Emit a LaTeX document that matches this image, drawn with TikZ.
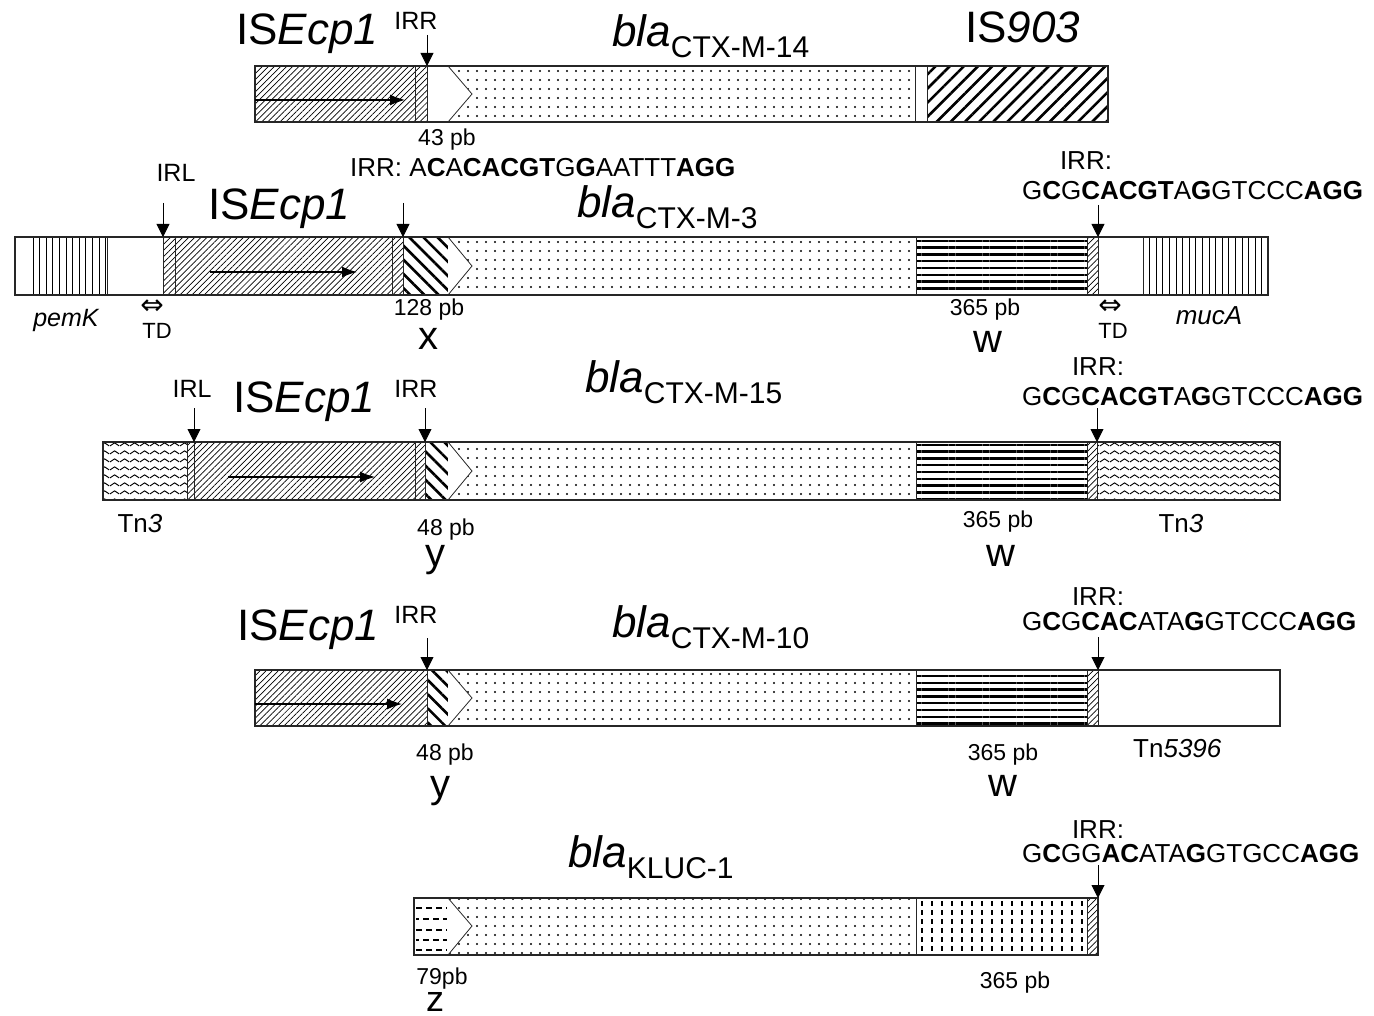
\documentclass[tikz,border=0pt]{standalone}
\usepackage{fontspec}
\setmainfont{Liberation Sans}
\newfontfamily\arrowfont{DejaVu Sans}
\usepackage{tikz}
\usetikzlibrary{
  arrows.meta,
  patterns.meta
}
\newcommand{\genefont}{\fontsize{44}{48}\selectfont}
\newcommand{\gsubfont}{\fontsize{30}{34}\selectfont}
\newcommand{\irfont}{\fontsize{25}{28}\selectfont}
\newcommand{\seqfont}{\fontsize{26}{30}\selectfont}
\newcommand{\pbfont}{\fontsize{23}{26}\selectfont}
\newcommand{\letfont}{\fontsize{40}{44}\selectfont}
\newcommand{\tdfont}{\fontsize{22}{24}\selectfont}
\newcommand{\blagene}[1]{{\genefont\itshape bla}\raisebox{-11pt}{\gsubfont #1}}
\pgfdeclarepattern{
  name=tnwaves,
  type=uncolored,
  bottom left={\pgfpointorigin},
  top right={\pgfpoint{10pt}{8pt}},
  tile size={\pgfpoint{10pt}{8pt}},
  code={
    \pgfsetlinewidth{1pt}
    \pgfpathmoveto{\pgfpoint{0pt}{2.3pt}}
    \pgfpathcurveto{\pgfpoint{2.5pt}{2.3pt}}{\pgfpoint{2.5pt}{5.7pt}}{\pgfpoint{5pt}{5.7pt}}
    \pgfpathcurveto{\pgfpoint{7.5pt}{5.7pt}}{\pgfpoint{7.5pt}{2.3pt}}{\pgfpoint{10pt}{2.3pt}}
    \pgfusepath{stroke}
  }
}
\tikzset{
segline/.style={
  draw=black!85,
  line width=0.9pt
},
isfill/.style={
  segline,
  pattern={Lines[angle=45,distance=4.3pt,line width=0.7pt]}
},
blafill/.style={
  segline,
  pattern={Dots[radius=1.1pt,distance=9pt]}
},
isninefill/.style={
  segline,
  pattern={Lines[angle=45,distance=10pt,line width=2.6pt]}
},
spacerfill/.style={
  segline,
  pattern={Lines[angle=-45,distance=10pt,line width=2.6pt]}
},
wfill/.style={
  segline,
  pattern={Lines[angle=0,distance=6.8pt,line width=2.4pt]}
},
tnfill/.style={
  segline,
  pattern=tnwaves
},
plainfill/.style={
  segline,
  fill=white
},
barframe/.style={
  draw=black!85,
  line width=1.1pt
}
}

\begin{document}
\begin{tikzpicture}[
    x=1pt, y=-1pt,
    lbl/.style={inner sep=0pt, anchor=base},
    lblw/.style={inner sep=0pt, anchor=base west},
    promoter/.style={draw=black!85, fill=white, line width=0.8pt},
    irrarrow/.style={-{Triangle[length=13pt,width=13pt]}, line width=0.9pt},
    tpase/.style={-{Latex[length=15pt,width=11pt]}, line width=1.3pt},
    genelines/.style={line width=0.9pt},
    tdmark/.style={inner sep=0pt, font=\arrowfont\fontsize{28}{30}\selectfont},
  ]
  \useasboundingbox (0,0) rectangle (1374,1016);

  % Row 1: CTX-M-14
  \draw[isfill] (255,66) rectangle (415,122);
  \draw[isfill] (415,66) rectangle (427,122);
  \draw[plainfill] (427,66) rectangle (448,122);
  \draw[blafill] (448,66) rectangle (915,122);
  \draw[plainfill] (915,66) rectangle (927,122);
  \draw[isninefill] (927,66) rectangle (1108,122);
  \draw[promoter] (448,66) -- (472,94) -- (448,122);
  \draw[barframe] (255,66) rectangle (1108,122);
  \coordinate (tpAs) at (255,100);
  \coordinate (tpAe) at (405,100);
  \draw[tpase] (tpAs) -- (tpAe);

  \node[lblw, font=\genefont] (isA) at (236,45) {IS\textit{Ecp1}};
  \node[lbl, font=\irfont] (irrA) at (416,30) {IRR};
  \node[lblw] (blaA) at (612,47) {\blagene{CTX-M-14}};
  \node[lblw, font=\genefont] (isnA) at (965,43) {IS\textit{903}};
  \node[lbl, font=\pbfont] (bpA) at (447,146) {43 pb};
  \coordinate (irrAs) at (427,35);
  \coordinate (irrAe) at (427,66);
  \draw[irrarrow] (irrAs) -- (irrAe);

  % Row 2: CTX-M-3
  \draw[plainfill] (15,237) rectangle (107,295);
  \foreach \i in {0,...,11}
    \draw[genelines] ({33+6.6*\i},237) -- ++(0,58);
  \draw[plainfill] (107,237) rectangle (163,295);
  \draw[isfill] (163,237) rectangle (175,295);
  \draw[isfill] (175,237) rectangle (392,295);
  \draw[isfill] (392,237) rectangle (403,295);
  \draw[spacerfill] (403,237) rectangle (448,295);
  \draw[blafill] (448,237) rectangle (916,295);
  \draw[wfill] (916,237) rectangle (1087,295);
  \draw[isfill] (1087,237) rectangle (1098,295);
  \draw[plainfill] (1098,237) rectangle (1143,295);
  \draw[plainfill] (1143,237) rectangle (1268,295);
  \foreach \i in {1,...,18}
    \draw[genelines] ({1143+6.6*\i},237) -- ++(0,58);
  \draw[promoter] (448,237) -- (472,266) -- (448,295);
  \draw[barframe] (15,237) rectangle (1268,295);
  \coordinate (tpBs) at (210,272);
  \coordinate (tpBe) at (357,272);
  \draw[tpase] (tpBs) -- (tpBe);

  \node[lbl, font=\irfont] (irlB) at (176,182) {IRL};
  \node[lblw, font=\genefont] (isB) at (208,220) {IS\textit{Ecp1}};
  \node[lblw, font=\seqfont] (seqB) at (350,177)
    {IRR: A\textbf{C}A\textbf{CACGT}G\textbf{G}AATTT\textbf{AGG}};
  \node[lblw] (blaB) at (577,218) {\blagene{CTX-M-3}};
  \node[lbl, font=\seqfont] (irrB) at (1086,170) {IRR:};
  \node[lblw, font=\seqfont] (seqBr) at (1022,200)
    {G\textbf{C}G\textbf{CACGT}A\textbf{G}GTCCC\textbf{AGG}};
  \node[lbl, font=\fontsize{25}{28}\selectfont\itshape] (pemK) at (66,327) {pemK};
  \node[tdmark] (tdaL) at (152,307) {⇔};
  \node[lbl, font=\tdfont] (tdL) at (157,339) {TD};
  \node[lbl, font=\pbfont] (bpB) at (429,316) {128 pb};
  \node[lbl, font=\letfont] (xB) at (428,349) {x};
  \node[lbl, font=\pbfont] (bpBw) at (985,316) {365 pb};
  \node[lbl, font=\letfont] (wB) at (988,353) {w};
  \node[tdmark] (tdaR) at (1110,307) {⇔};
  \node[lbl, font=\tdfont] (tdR) at (1113,339) {TD};
  \node[lbl, font=\fontsize{26}{28}\selectfont\itshape] (mucA) at (1209,325) {mucA};
  \coordinate (irlBs) at (163,203);
  \coordinate (irlBe) at (163,237);
  \coordinate (irrBs) at (403,203);
  \coordinate (irrBe) at (403,237);
  \coordinate (irrBrs) at (1098,205);
  \coordinate (irrBre) at (1098,237);
  \draw[irrarrow] (irlBs) -- (irlBe);
  \draw[irrarrow] (irrBs) -- (irrBe);
  \draw[irrarrow] (irrBrs) -- (irrBre);

  % Row 3: CTX-M-15
  \draw[tnfill] (103,442) rectangle (187,500);
  \draw[isfill] (187,442) rectangle (194,500);
  \draw[isfill] (194,442) rectangle (415,500);
  \draw[isfill] (415,442) rectangle (425,500);
  \draw[spacerfill] (425,442) rectangle (448,500);
  \draw[blafill] (448,442) rectangle (916,500);
  \draw[wfill] (916,442) rectangle (1087,500);
  \draw[isfill] (1087,442) rectangle (1097,500);
  \draw[tnfill] (1097,442) rectangle (1280,500);
  \draw[promoter] (448,442) -- (472,471) -- (448,500);
  \draw[barframe] (103,442) rectangle (1280,500);
  \coordinate (tpCs) at (228,477);
  \coordinate (tpCe) at (375,477);
  \draw[tpase] (tpCs) -- (tpCe);

  \node[lbl, font=\irfont] (irlC) at (192,397) {IRL};
  \node[lblw, font=\genefont] (isC) at (233,413) {IS\textit{Ecp1}};
  \node[lbl, font=\irfont] (irrC) at (416,397) {IRR};
  \node[lblw] (blaC) at (585,392) {\blagene{CTX-M-15}};
  \node[lbl, font=\seqfont] (irrCr) at (1098,375) {IRR:};
  \node[lblw, font=\seqfont] (seqC) at (1022,405)
    {G\textbf{C}G\textbf{CACGT}A\textbf{G}GTCCC\textbf{AGG}};
  \node[lbl, font=\seqfont] (tnCl) at (140,532) {Tn\textit{3}};
  \node[lbl, font=\pbfont] (bpC) at (446,535) {48 pb};
  \node[lbl, font=\letfont] (yC) at (435,566) {y};
  \node[lbl, font=\pbfont] (bpCw) at (998,527) {365 pb};
  \node[lbl, font=\letfont] (wC) at (1001,566) {w};
  \node[lbl, font=\seqfont] (tnCr) at (1181,532) {Tn\textit{3}};
  \coordinate (irlCs) at (194,408);
  \coordinate (irlCe) at (194,442);
  \coordinate (irrCs) at (425,408);
  \coordinate (irrCe) at (425,442);
  \coordinate (irrCrs) at (1097,408);
  \coordinate (irrCre) at (1097,442);
  \draw[irrarrow] (irlCs) -- (irlCe);
  \draw[irrarrow] (irrCs) -- (irrCe);
  \draw[irrarrow] (irrCrs) -- (irrCre);

  % Row 4: CTX-M-10
  \draw[isfill] (255,670) rectangle (427,726);
  \draw[spacerfill] (427,670) rectangle (448,726);
  \draw[blafill] (448,670) rectangle (916,726);
  \draw[wfill] (916,670) rectangle (1087,726);
  \draw[isfill] (1087,670) rectangle (1098,726);
  \draw[plainfill] (1098,670) rectangle (1280,726);
  \draw[promoter] (448,670) -- (472,698) -- (448,726);
  \draw[barframe] (255,670) rectangle (1280,726);
  \coordinate (tpDs) at (255,704);
  \coordinate (tpDe) at (402,704);
  \draw[tpase] (tpDs) -- (tpDe);

  \node[lblw, font=\genefont] (isD) at (237,640) {IS\textit{Ecp1}};
  \node[lbl, font=\irfont] (irrD) at (416,623) {IRR};
  \node[lblw] (blaD) at (612,637) {\blagene{CTX-M-10}};
  \node[lbl, font=\seqfont] (irrDr) at (1098,605) {IRR:};
  \node[lblw, font=\seqfont] (seqD) at (1022,630)
    {G\textbf{C}G\textbf{CAC}ATA\textbf{G}GTCCC\textbf{AGG}};
  \node[lbl, font=\pbfont] (bpD) at (445,760) {48 pb};
  \node[lbl, font=\letfont] (yD) at (440,797) {y};
  \node[lbl, font=\pbfont] (bpDw) at (1003,760) {365 pb};
  \node[lbl, font=\letfont] (wD) at (1003,796) {w};
  \node[lblw, font=\seqfont] (tnD) at (1133,757) {Tn\textit{5396}};
  \coordinate (irrDs) at (427,638);
  \coordinate (irrDe) at (427,670);
  \coordinate (irrDrs) at (1098,637);
  \coordinate (irrDre) at (1098,670);
  \draw[irrarrow] (irrDs) -- (irrDe);
  \draw[irrarrow] (irrDrs) -- (irrDre);

  % Row 5: KLUC-1
  \draw[plainfill] (414,898) rectangle (448,955);
  \foreach \yy/\off in {908/0,919/3,930/0,940/3,950/0}
    \draw[line width=1.5pt, dash pattern=on 6pt off 4pt, dash phase=\off pt] (416,\yy) -- (447,\yy);
  \draw[blafill] (448,898) rectangle (916,955);
  \draw[plainfill] (916,898) rectangle (1087,955);
  \foreach \i in {0,...,16}
    \draw[line width=1.2pt, dash pattern=on 5pt off 4pt] ({922+10*\i},901) -- ++(0,53);
  \draw[isfill] (1087,898) rectangle (1098,955);
  \draw[promoter] (448,898) -- (472,926) -- (448,955);
  \draw[barframe] (414,898) rectangle (1098,955);

  \node[lblw] (blaE) at (568,867) {\blagene{KLUC-1}};
  \node[lbl, font=\seqfont] (irrE) at (1098,838) {IRR:};
  \node[lblw, font=\seqfont] (seqE) at (1022,862)
    {G\textbf{C}GG\textbf{AC}ATA\textbf{G}GTGCC\textbf{AGG}};
  \node[lbl, font=\pbfont] (bpE) at (442,984) {79pb};
  \node[lbl, font=\fontsize{36}{38}\selectfont] (zE) at (435,1011) {z};
  \node[lbl, font=\pbfont] (bpEw) at (1015,988) {365 pb};
  \coordinate (irrEs) at (1098,865);
  \coordinate (irrEe) at (1098,898);
  \draw[irrarrow] (irrEs) -- (irrEe);
\end{tikzpicture}
\end{document}
